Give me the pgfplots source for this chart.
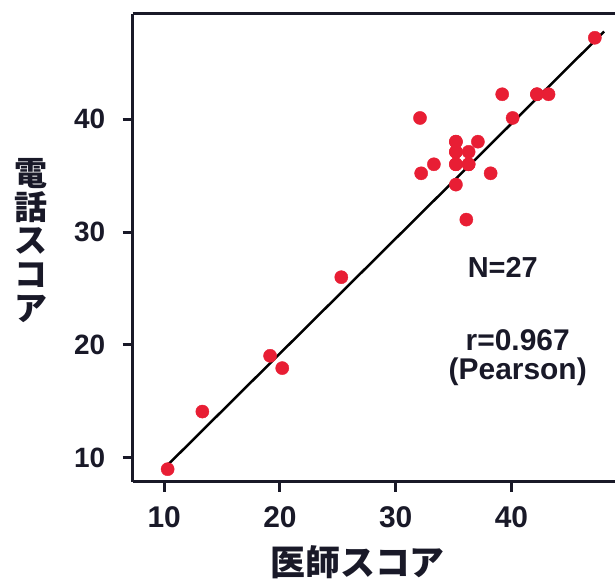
\documentclass[border=0pt]{standalone}
\usepackage{pgfplots}
\pgfplotsset{compat=1.18}
\usepackage{fontspec}
\setmainfont{Liberation Sans}
\newfontfamily\cjk{Noto Sans CJK JP}
\definecolor{dotred}{RGB}{232,30,52}
\definecolor{axcol}{RGB}{25,25,40}
\begin{document}
\begin{tikzpicture}
\begin{axis}[
  at={(0,0)}, anchor=south west,
  width=483pt, height=469pt, scale only axis,
  xmin=7.28, xmax=48.9, ymin=7.88, ymax=49.31,
  axis lines=left, axis line style={-, line width=3pt, color=axcol},
  xtick={10,20,30,40}, ytick={10,20,30,40},
  tick align=outside, major tick length=10pt,
  tick style={line width=3pt, color=axcol},
  /pgf/number format/assume math mode=true,
  xticklabel style={font=\bfseries\fontsize{30}{30}\selectfont, color=axcol, yshift=-11pt},
  yticklabel style={font=\bfseries\fontsize{28}{28}\selectfont, color=axcol, xshift=-14pt},
  clip=false,
]
\addplot[only marks, mark=*, mark size=6.6pt, color=dotred, mark options={draw=dotred, fill=dotred}] coordinates {
(10.3,9.0) (13.3,14.1) (19.15,19.04) (20.2,17.95) (25.3,26.0) (47.2,47.2)
(39.2,42.2) (42.2,42.2) (43.2,42.2) (32.1,40.1) (40.1,40.1)
(35.2,38.0) (37.1,38.0) (35.2,37.1) (36.3,37.1)
(33.3,36.0) (35.2,36.0) (36.3,36.0) (32.2,35.2) (38.2,35.2)
(35.2,34.2) (36.1,31.1)
(35.2,36.0) (35.2,37.1) (36.3,36.0) (35.2,38.0) (42.2,42.2)
};
\addplot[black, line width=2.5pt] coordinates {(10.4,9.47) (48.0,47.75)};
\draw[line width=3pt, color=axcol] (rel axis cs:0,1) -- (rel axis cs:1,1);
\end{axis}
\node[font=\bfseries\fontsize{29}{29}\selectfont, color=axcol] at (371pt,214.5pt) {N=27};
\node[font=\bfseries\fontsize{30}{30}\selectfont, color=axcol] at (386pt,142pt) {r=0.967};
\node[font=\bfseries\fontsize{30}{30}\selectfont, color=axcol] at (386pt,110pt) {(Pearson)};
\node[font=\cjk\bfseries\fontsize{35}{35}\selectfont, color=axcol] at (225.5pt,-81pt) {医師スコア};
\node[font=\cjk\bfseries\fontsize{33}{33.8}\selectfont, color=axcol, align=center, inner sep=0pt] at (-102pt,242pt) {電\\話\\ス\\コ\\ア};
\useasboundingbox (-133pt,-100pt) rectangle (483pt,483pt);
\end{tikzpicture}
\end{document}
